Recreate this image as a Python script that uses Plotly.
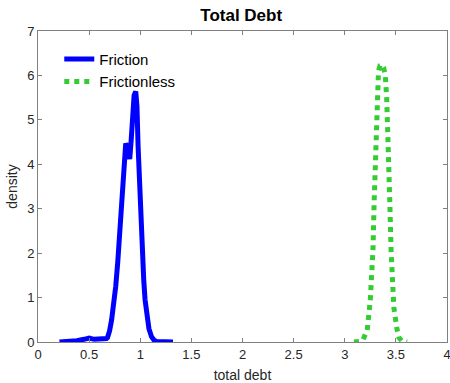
import plotly.graph_objects as go

# Kernel density of total debt, economy with frictions
friction_x = [0.21, 0.30, 0.38, 0.45, 0.50, 0.55, 0.62, 0.67, 0.68, 0.70, 0.72, 0.74,
              0.76, 0.78, 0.80, 0.815, 0.83, 0.845, 0.858, 0.87, 0.883, 0.897, 0.91,
              0.925, 0.94, 0.956, 0.968, 0.979, 0.992, 1.005, 1.02, 1.034, 1.047,
              1.06, 1.085, 1.11, 1.135, 1.16, 1.22, 1.32]
friction_y = [0.00, 0.01, 0.03, 0.06, 0.09, 0.06, 0.06, 0.08, 0.10, 0.25, 0.50, 0.85,
              1.25, 1.80, 2.50, 2.95, 3.65, 4.20, 4.47, 4.40, 4.18, 4.12, 4.50,
              5.15, 5.55, 5.64, 5.30, 4.40, 3.50, 2.90, 2.10, 1.40, 0.95,
              0.65, 0.30, 0.12, 0.04, 0.01, 0.00, 0.00]

# Kernel density of total debt, frictionless economy
frictionless_x = [3.09, 3.14, 3.18, 3.22, 3.25, 3.265, 3.276, 3.288, 3.30, 3.315,
                  3.33, 3.345, 3.364, 3.38, 3.397, 3.41, 3.42, 3.43, 3.44, 3.453,
                  3.465, 3.48, 3.51, 3.53, 3.56, 3.61]
frictionless_y = [0.00, 0.01, 0.06, 0.27, 0.95, 1.50, 2.07, 3.20, 4.32, 5.30,
                  6.10, 6.22, 6.24, 6.18, 5.98, 5.50, 4.90, 4.32, 3.20, 2.07,
                  1.30, 0.78, 0.30, 0.10, 0.02, 0.00]

x_ticks = [0, 0.5, 1, 1.5, 2, 2.5, 3, 3.5, 4]
x_tick_labels = ["0", "0.5", "1", "1.5", "2", "2.5", "3", "3.5", "4"]
y_ticks = [0, 1, 2, 3, 4, 5, 6, 7]

FONT = "Liberation Sans, Arial, Helvetica, sans-serif"

fig = go.Figure()
fig.add_trace(go.Scatter(x=friction_x, y=friction_y, mode="lines", name="Friction",
                         line=dict(color="#0000FF", width=5)))
fig.add_trace(go.Scatter(x=frictionless_x, y=frictionless_y, mode="lines", name="Frictionless",
                         line=dict(color="#33CC33", width=5, dash="dot")))

axis_common = dict(
    showline=True, linecolor="#808080", linewidth=1, mirror="ticks",
    ticks="inside", ticklen=4, tickcolor="#808080",
    showgrid=False, zeroline=False,
    ticklabeloverflow="allow", automargin=False,
    tickfont=dict(family=FONT, size=13, color="#262626"),
)

fig.update_layout(
    width=450, height=383,
    margin=dict(l=38, r=3, t=31, b=41),
    paper_bgcolor="white", plot_bgcolor="white",
    title=dict(text="<b>Total Debt</b>", x=0.536, xanchor="center", y=0.96, yanchor="middle",
               font=dict(family=FONT, size=17, color="#000000")),
    xaxis=dict(range=[0, 4], tickvals=x_ticks, ticktext=x_tick_labels,
               title=dict(text="total debt", font=dict(family=FONT, size=14, color="#262626"),
                          standoff=10),
               **axis_common),
    yaxis=dict(range=[0, 7], tickvals=y_ticks,
               title=dict(text="density", font=dict(family=FONT, size=14, color="#262626"),
                          standoff=6),
               **axis_common),
    legend=dict(x=0.052, y=0.962, xanchor="left", yanchor="top",
                bgcolor="rgba(0,0,0,0)", font=dict(family=FONT, size=15, color="#000000"),
                tracegroupgap=0, itemwidth=30),
    showlegend=True,
)

fig.write_html("out.html")
